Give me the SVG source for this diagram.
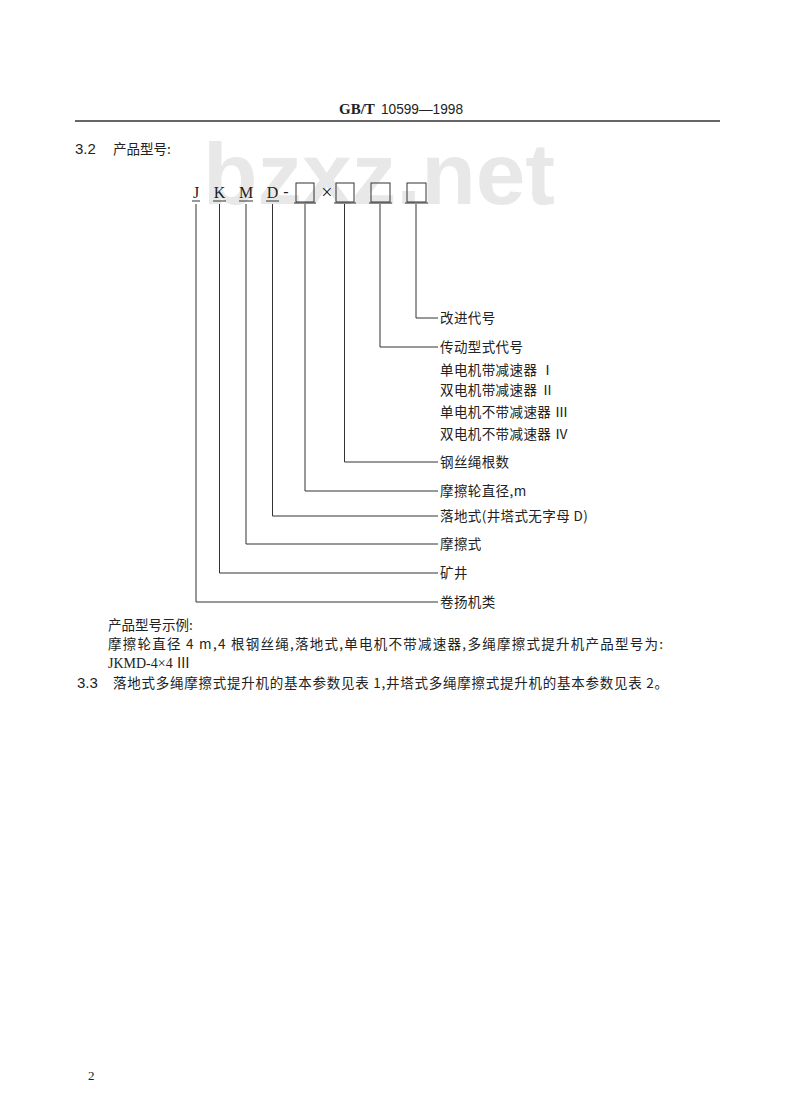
<svg xmlns="http://www.w3.org/2000/svg" width="800" height="1102" viewBox="0 0 800 1102">
<style>
.cn{font-family:"Noto Sans CJK SC","Liberation Serif",serif;font-size:13.5px;fill:#222}
.lb{font-family:"Noto Sans CJK SC","Liberation Serif",serif;font-size:13.5px;fill:#222;letter-spacing:0.4px}
.rm{font-family:"Liberation Serif","Noto Sans CJK SC",serif;fill:#222}
.ln{stroke:#333;stroke-width:1;fill:none}
.bx{stroke:#333;stroke-width:1;fill:none}
</style>
<rect width="800" height="1102" fill="#ffffff"/>
<text x="203" y="204" font-family="Liberation Sans,Arial,sans-serif" font-weight="bold" font-size="88" fill="#e8e8e8" textLength="352" lengthAdjust="spacingAndGlyphs">bzxz.net</text>
<g id="header">
<text x="339" y="114" font-family="Liberation Serif,serif" font-weight="bold" font-size="15" fill="#222">GB/T</text>
<text x="381" y="114" font-family="Liberation Sans,sans-serif" font-size="15" fill="#222" textLength="82" lengthAdjust="spacingAndGlyphs">10599—1998</text>
<line x1="75" y1="121" x2="720" y2="121" stroke="#333" stroke-width="1.3"/>
</g>
<g id="title">
<text x="75" y="154" font-family="Liberation Sans,sans-serif" font-size="15" fill="#222">3.2</text>
<text x="113" y="154" class="cn">产品型号:</text>
</g>
<g id="code">
<text x="196" y="198" class="rm" font-size="16" text-anchor="middle">J</text>
<text x="219.5" y="198" class="rm" font-size="16" text-anchor="middle">K</text>
<text x="246" y="198" class="rm" font-size="16" text-anchor="middle">M</text>
<text x="272.5" y="198" class="rm" font-size="16" text-anchor="middle">D</text>
<text x="286" y="197" class="rm" font-size="16" text-anchor="middle">-</text>
<text x="327" y="199" class="rm" font-size="20" text-anchor="middle">×</text>
<line x1="192" y1="201" x2="200" y2="201" class="ln"/>
<line x1="213" y1="201" x2="226" y2="201" class="ln"/>
<line x1="239" y1="201" x2="253" y2="201" class="ln"/>
<line x1="266" y1="201" x2="279" y2="201" class="ln"/>
<rect x="296" y="183" width="18" height="19" class="bx"/>
<rect x="336" y="183" width="18" height="19" class="bx"/>
<rect x="371" y="183" width="19" height="19" class="bx"/>
<rect x="407" y="183" width="19" height="19" class="bx"/>
<line x1="294" y1="203" x2="316" y2="203" class="ln"/>
<line x1="334" y1="203" x2="356" y2="203" class="ln"/>
<line x1="369" y1="203" x2="392" y2="203" class="ln"/>
<line x1="405" y1="203" x2="428" y2="203" class="ln"/>
</g>
<g id="connectors">
<polyline points="416,204 416,318 438,318" class="ln"/>
<polyline points="380,204 380,347 438,347" class="ln"/>
<polyline points="344.5,204 344.5,462 438,462" class="ln"/>
<polyline points="305,204 305,491 438,491" class="ln"/>
<polyline points="272.5,204 272.5,516 438,516" class="ln"/>
<polyline points="246,204 246,544 438,544" class="ln"/>
<polyline points="219.5,204 219.5,573 438,573" class="ln"/>
<polyline points="196,204 196,602 438,602" class="ln"/>
</g>
<g id="label-gaijin"><text x="440" y="323" class="lb">改进代号</text></g>
<g id="label-chuandong">
<text x="440" y="352" class="lb">传动型式代号</text>
<text x="440" y="375" class="lb">单电机带减速器 <tspan class="rm">Ⅰ</tspan></text>
<text x="440" y="395" class="lb">双电机带减速器 <tspan class="rm">Ⅱ</tspan></text>
<text x="440" y="417" class="lb">单电机不带减速器 <tspan class="rm">Ⅲ</tspan></text>
<text x="440" y="439" class="lb">双电机不带减速器 <tspan class="rm">Ⅳ</tspan></text>
</g>
<g id="label-gangsi"><text x="440" y="467" class="lb">钢丝绳根数</text></g>
<g id="label-moca-d"><text x="440" y="496" class="lb">摩擦轮直径,m</text></g>
<g id="label-luodi"><text x="440" y="521" class="lb">落地式(井塔式无字母 D)</text></g>
<g id="label-moca"><text x="440" y="549" class="lb">摩擦式</text></g>
<g id="label-kuang"><text x="440" y="578" class="lb">矿井</text></g>
<g id="label-juan"><text x="440" y="607" class="lb">卷扬机类</text></g>
<g id="example">
<text x="108" y="630" class="cn">产品型号示例:</text>
<text x="108" y="649" class="cn" textLength="555" lengthAdjust="spacing">摩擦轮直径 4 m,4 根钢丝绳,落地式,单电机不带减速器,多绳摩擦式提升机产品型号为:</text>
<text x="108" y="668" class="rm" font-size="14">JKMD-4×4 Ⅲ</text>
<text x="77" y="688" font-family="Liberation Sans,sans-serif" font-size="15" fill="#222">3.3</text>
<text x="113" y="688" class="cn" textLength="555" lengthAdjust="spacing">落地式多绳摩擦式提升机的基本参数见表 1,井塔式多绳摩擦式提升机的基本参数见表 2。</text>
</g>
<text x="88" y="1080" class="rm" font-size="13">2</text>
</svg>
